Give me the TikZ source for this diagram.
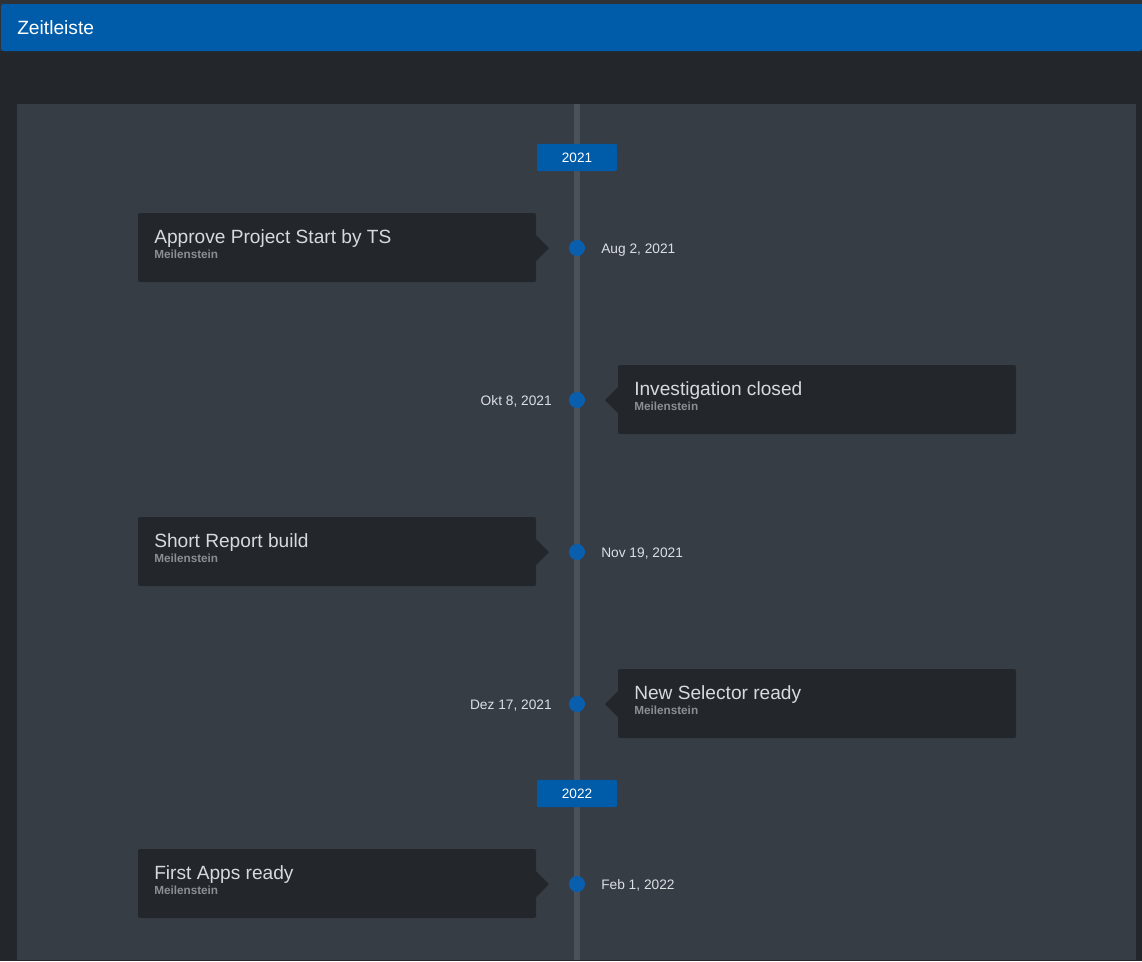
\documentclass[tikz,border=0pt]{standalone}
\usepackage{fontspec}
\setmainfont{Liberation Sans}
\definecolor{topstrip}{HTML}{2F3337}
\definecolor{hdrblue}{HTML}{005CA8}
\definecolor{darkbg}{HTML}{23272B}
\definecolor{panel}{HTML}{373D45}
\definecolor{tline}{HTML}{4A525B}
\definecolor{dotblue}{HTML}{0A5EAE}
\definecolor{titletxt}{HTML}{D6D9DD}
\definecolor{subtxt}{HTML}{8A8F95}
\definecolor{datetxt}{HTML}{DCDFE2}
\tikzset{
  card/.style={fill=darkbg, rounded corners=1.5pt, inner sep=0pt, minimum width=298.5pt, minimum height=51.75pt},
  dotnode/.style={circle, fill=dotblue, inner sep=0pt, minimum size=12pt},
  yearbox/.style={fill=hdrblue, rounded corners=1pt, minimum width=60pt, minimum height=20.5pt, inner sep=0pt, text=white, font=\fontsize{10.2}{12}\selectfont},
  ttl/.style={anchor=base west, inner sep=0pt, text=titletxt, font=\fontsize{14.35}{16}\selectfont},
  subttl/.style={anchor=base west, inner sep=0pt, text=subtxt, font=\bfseries\fontsize{8.8}{10}\selectfont},
  datel/.style={anchor=base west, inner sep=0pt, text=datetxt, font=\fontsize{10.3}{12}\selectfont},
  dater/.style={anchor=base east, inner sep=0pt, text=datetxt, font=\fontsize{10.3}{12}\selectfont},
}
\newcommand\leftitem[4]{%
  \node[card] (#1card) at (337,#2-0.5) {};
  \fill[darkbg] (536,#2-13) -- (549,#2) -- (536,#2+13) -- cycle;
  \node[dotnode] (#1dot) at (577,#2) {};
  \node[ttl] (#1title) at (154,#2-5) {#3};
  \node[subttl] (#1sub) at (154,#2+10.5) {Meilenstein};
  \node[datel] (#1date) at (601,#2+5) {#4};
}
\newcommand\rightitem[4]{%
  \node[card] (#1card) at (817,#2-0.5) {};
  \fill[darkbg] (618,#2-13) -- (605,#2) -- (618,#2+13) -- cycle;
  \node[dotnode] (#1dot) at (577,#2) {};
  \node[ttl] (#1title) at (634,#2-5) {#3};
  \node[subttl] (#1sub) at (634,#2+10.5) {Meilenstein};
  \node[dater] (#1date) at (552,#2+5) {#4};
}
\begin{document}
\begin{tikzpicture}[x=0.75pt,y=-0.75pt]
\useasboundingbox (0,0) rectangle (1142,961);
% backgrounds
\fill[topstrip] (0,0) rectangle (1142,961);
\fill[darkbg] (0,51) rectangle (1142,961);
\fill[hdrblue, rounded corners=2pt] (1,4) -- (1,51) -- (1142,51) [sharp corners] -- (1142,4) [rounded corners=2pt] -- cycle;
\node[anchor=base west, inner sep=0pt, text=white, font=\fontsize{14.4}{17}\selectfont] (header) at (17,34) {Zeitleiste};
\fill[panel] (17,104) rectangle (1136,960);
% timeline
\coordinate (ltop) at (577,104);
\coordinate (lbot) at (577,960);
\draw[tline, line width=4.5pt] (ltop) -- (lbot);
% years
\node[yearbox] (y2021) at (577,157.5) {2021};
\node[yearbox] (y2022) at (577,793.5) {2022};
% items
\leftitem{a}{248}{Approve Project Start by TS}{Aug 2, 2021}
\rightitem{b}{400}{Investigation closed}{Okt 8, 2021}
\leftitem{c}{552}{Short Report build}{Nov 19, 2021}
\rightitem{d}{704}{New Selector ready}{Dez 17, 2021}
\leftitem{e}{884}{First Apps ready}{Feb 1, 2022}
\end{tikzpicture}
\end{document}
